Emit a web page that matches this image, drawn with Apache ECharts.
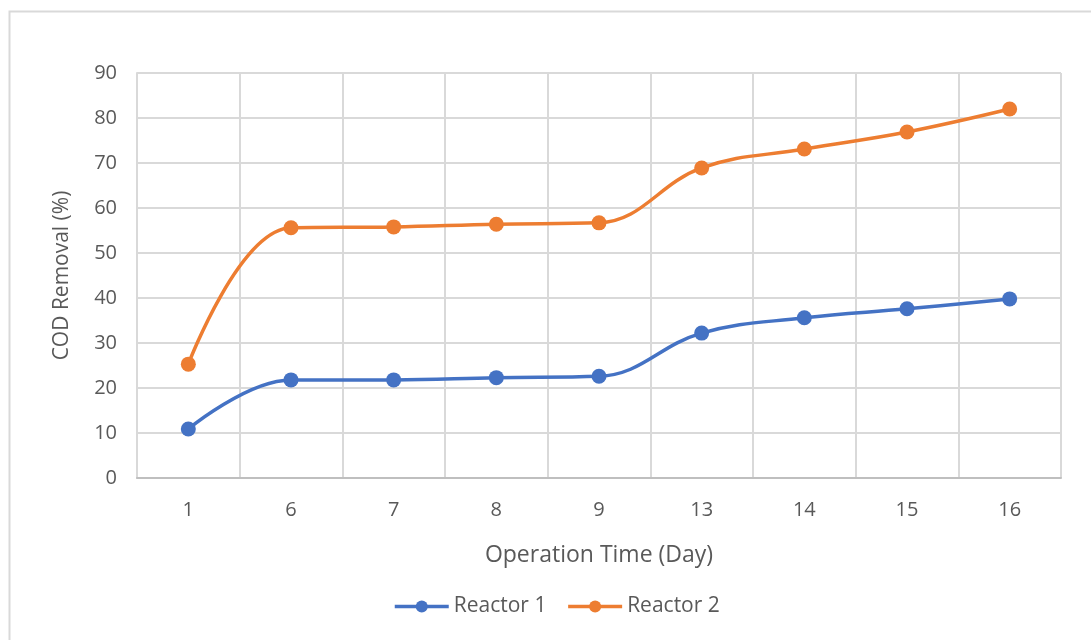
<!DOCTYPE html>
<html>
<head>
<meta charset="utf-8">
<script src="https://cdn.jsdelivr.net/npm/echarts@6/dist/echarts.min.js"></script>
<style>
  html, body { margin: 0; padding: 0; background: #ffffff; }
  #chart { width: 1091px; height: 640px; }
</style>
</head>
<body>
<div id="chart"></div>
<script>
// Operation days (category axis)
const days = ['1', '6', '7', '8', '9', '13', '14', '15', '16'];
// COD removal (%) for each reactor
const reactor1 = [10.9, 21.8, 21.8, 22.3, 22.6, 32.2, 35.6, 37.6, 39.8];
const reactor2 = [25.3, 55.6, 55.8, 56.4, 56.7, 68.9, 73.1, 76.9, 82.0];
// Value axis ticks
const yMin = 0, yMax = 90, yStep = 10;

const textColor = '#595959';
const gridColor = '#d9d9d9';
const fontFamily = '"Open Sans", "Noto Sans", sans-serif';

const chart = echarts.init(document.getElementById('chart'), null, { renderer: 'canvas' });

chart.setOption({
  backgroundColor: '#ffffff',
  animation: false,
  textStyle: { fontFamily: fontFamily },
  graphic: [{
    type: 'rect',
    shape: { x: 9.5, y: 11.5, width: 1200, height: 800 },
    style: { fill: 'none', stroke: '#d9d9d9', lineWidth: 2 },
    silent: true,
    z: -10
  }],
  grid: { left: 137, right: 30, top: 73, bottom: 162, containLabel: false },
  legend: {
    bottom: 18,
    left: 388,
    itemWidth: 54,
    itemHeight: 15,
    itemGap: 20,
    lineStyle: { width: 3.5 },
    textStyle: { color: textColor, fontSize: 21, fontFamily: fontFamily },
    data: ['Reactor 1', 'Reactor 2']
  },
  xAxis: {
    type: 'category',
    data: days,
    boundaryGap: true,
    name: 'Operation Time (Day)',
    nameLocation: 'middle',
    nameGap: 66,
    nameTextStyle: { color: textColor, fontSize: 23, fontFamily: fontFamily },
    axisLine: { show: true, lineStyle: { color: '#bfbfbf', width: 2 } },
    axisTick: { show: false },
    axisLabel: { color: textColor, fontSize: 20, margin: 22, fontFamily: fontFamily },
    splitLine: { show: true, lineStyle: { color: gridColor, width: 2 } }
  },
  yAxis: {
    type: 'value',
    min: yMin,
    max: yMax,
    interval: yStep,
    name: 'COD Removal (%)',
    nameLocation: 'middle',
    nameGap: 64,
    nameTextStyle: { color: textColor, fontSize: 21, fontFamily: fontFamily },
    axisLine: { show: true, lineStyle: { color: gridColor, width: 2 } },
    axisTick: { show: false },
    axisLabel: { color: textColor, fontSize: 20, margin: 20, fontFamily: fontFamily },
    splitLine: { show: true, lineStyle: { color: gridColor, width: 2 } }
  },
  series: [
    {
      name: 'Reactor 1',
      type: 'line',
      data: reactor1,
      smooth: 0.4,
      symbol: 'circle',
      symbolSize: 15,
      color: '#4472c4',
      lineStyle: { width: 3.5, color: '#4472c4' },
      itemStyle: { color: '#4472c4' }
    },
    {
      name: 'Reactor 2',
      type: 'line',
      data: reactor2,
      smooth: 0.4,
      symbol: 'circle',
      symbolSize: 15,
      color: '#ed7d31',
      lineStyle: { width: 3.5, color: '#ed7d31' },
      itemStyle: { color: '#ed7d31' }
    }
  ]
});
</script>
</body>
</html>
